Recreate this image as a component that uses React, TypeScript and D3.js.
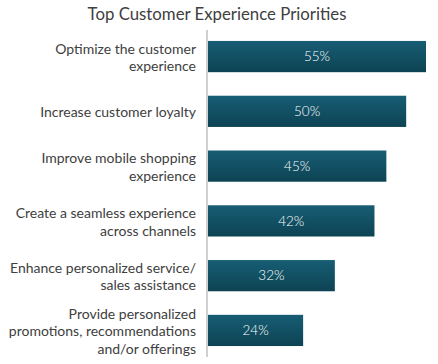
import React, { useEffect, useRef } from "react";
import * as d3 from "d3";

// Chart data
const categories = [
  "Optimize the customer experience",
  "Increase customer loyalty",
  "Improve mobile shopping experience",
  "Create a seamless experience across channels",
  "Enhance personalized service/ sales assistance",
  "Provide personalized promotions, recommendations and/or offerings",
];

// How each category label wraps onto lines
const labelLines = [
  ["Optimize the customer", "experience"],
  ["Increase customer loyalty"],
  ["Improve mobile shopping", "experience"],
  ["Create a seamless experience", "across channels"],
  ["Enhance personalized service/", "sales assistance"],
  ["Provide personalized", "promotions, recommendations", "and/or offerings"],
];

const values = [55, 50, 45, 42, 32, 24];

const App = () => {
  const graphRef = useRef<SVGSVGElement | null>(null);

  useEffect(() => {
    const svg = d3.select(graphRef.current);
    svg.selectAll("*").remove();

    const width = 438;
    const height = 364;
    const margin = { top: 30, right: 12, bottom: 7, left: 208 };

    // Gradient for the bars
    const grad = svg
      .append("defs")
      .append("linearGradient")
      .attr("id", "barGrad")
      .attr("x1", 0)
      .attr("y1", 0)
      .attr("x2", 0)
      .attr("y2", 1);
    grad.append("stop").attr("offset", "0%").attr("stop-color", "#175d74");
    grad.append("stop").attr("offset", "100%").attr("stop-color", "#0d4353");

    // Scales
    const x = d3
      .scaleLinear()
      .domain([0, 55])
      .range([margin.left, width - margin.right]);
    const y = d3
      .scaleBand()
      .domain(categories)
      .range([margin.top, height - margin.bottom])
      .paddingInner(0.43)
      .paddingOuter(0.2);

    // Title
    svg
      .append("text")
      .text("Top Customer Experience Priorities")
      .attr("x", 217)
      .attr("y", 20)
      .attr("text-anchor", "middle")
      .attr("font-size", 16.8)
      .attr("fill", "#404040");

    // Bars
    svg
      .selectAll(".bar")
      .data(values)
      .enter()
      .append("rect")
      .attr("class", "bar")
      .attr("x", x(0))
      .attr("y", (d, i) => y(categories[i]))
      .attr("width", (d) => x(d) - x(0))
      .attr("height", y.bandwidth())
      .attr("fill", "url(#barGrad)");

    // Value labels
    svg
      .selectAll(".val")
      .data(values)
      .enter()
      .append("text")
      .attr("class", "val")
      .text((d) => `${d}%`)
      .attr("x", (d) => (x(0) + x(d)) / 2)
      .attr("y", (d, i) => y(categories[i]) + y.bandwidth() / 2)
      .attr("dy", "0.35em")
      .attr("text-anchor", "middle")
      .attr("font-size", 13.5)
      .attr("font-weight", 300)
      .attr("fill", "white");

    // Axis line
    svg
      .append("line")
      .attr("x1", x(0) - 1)
      .attr("x2", x(0) - 1)
      .attr("y1", margin.top)
      .attr("y2", height - margin.bottom)
      .attr("stroke", "#d0d0d0")
      .attr("stroke-width", 2);

    // Category labels, right aligned
    const lineH = 17.5;
    categories.forEach((c, i) => {
      const lines = labelLines[i];
      const cy = y(c) + y.bandwidth() / 2;
      const t = svg
        .append("text")
        .attr("text-anchor", "end")
        .attr("font-size", 14)
        .attr("fill", "#404040");
      lines.forEach((ln, j) => {
        t.append("tspan")
          .attr("x", 196)
          .attr("y", cy + (j - (lines.length - 1) / 2) * lineH + 1)
          .attr("dy", "0.35em")
          .text(ln);
      });
    });
  }, []);

  return (
    <div style={{ position: "absolute", left: 0, top: 0 }}>
      <svg
        ref={graphRef}
        width={438}
        height={364}
        style={{ display: "block", fontFamily: "Lato, sans-serif" }}
      />
    </div>
  );
};

export default App;
